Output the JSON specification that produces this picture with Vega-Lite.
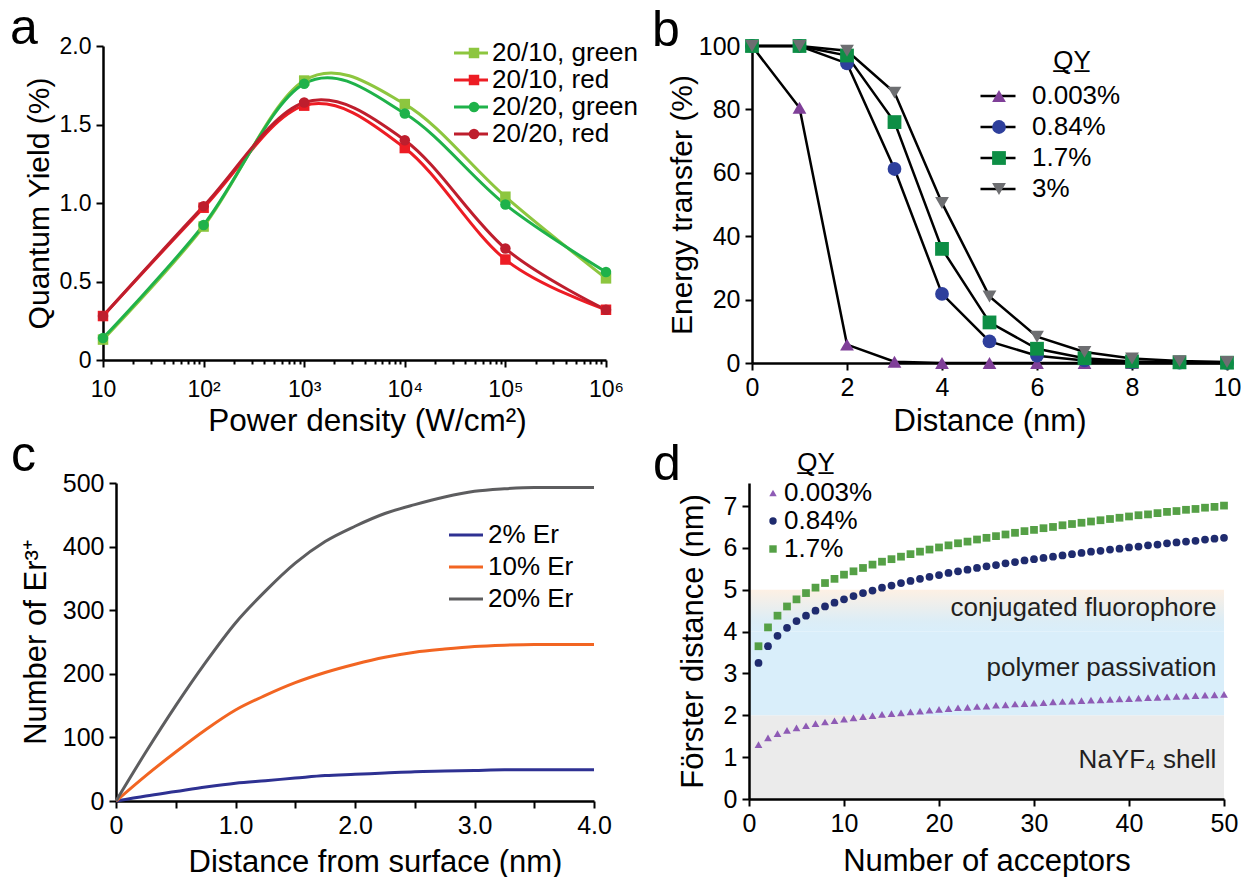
{
"$schema":"https://vega.github.io/schema/vega-lite/v6.json",
"background":"white",
"padding":{"left":10,"top":4,"right":0,"bottom":0},
"config":{
 "font":"Liberation Sans",
 "view":{"stroke":null},
 "axis":{"domainColor":"#000","domainWidth":2.5,"tickColor":"#000","tickWidth":2,"tickSize":7,"labelFontSize":25,"labelColor":"#000","labelPadding":5,"labelFlush":false,"labelOverlap":false,"titleFontSize":31,"titleFontWeight":"normal","titleColor":"#000","grid":false},
 "legend":{"labelFontSize":26,"labelColor":"#000","titleFontSize":26,"titleFontWeight":"normal","titleColor":"#000","symbolStrokeWidth":0},
 "title":{"fontSize":50,"fontWeight":"normal","color":"#000","anchor":"start","frame":"group"}
},
"spacing":-6,
"resolve":{"scale":{"color":"independent","fill":"independent","shape":"independent"}},
"vconcat":[
{"bounds":"flush","spacing":146,
 "resolve":{"scale":{"color":"independent","fill":"independent","shape":"independent"}},
 "hconcat":[
 {"width":503,"height":314,
  "title":{"text":"a","dx":-93,"dy":23},
  "data":{"values":[
   {"p":10,"s":"20/10, green","v":0.13},{"p":100,"s":"20/10, green","v":0.85},{"p":1000,"s":"20/10, green","v":1.78},{"p":10000,"s":"20/10, green","v":1.63},{"p":100000,"s":"20/10, green","v":1.04},{"p":1000000,"s":"20/10, green","v":0.52},
   {"p":10,"s":"20/10, red","v":0.28},{"p":100,"s":"20/10, red","v":0.97},{"p":1000,"s":"20/10, red","v":1.62},{"p":10000,"s":"20/10, red","v":1.35},{"p":100000,"s":"20/10, red","v":0.64},{"p":1000000,"s":"20/10, red","v":0.32},
   {"p":10,"s":"20/20, green","v":0.14},{"p":100,"s":"20/20, green","v":0.86},{"p":1000,"s":"20/20, green","v":1.76},{"p":10000,"s":"20/20, green","v":1.57},{"p":100000,"s":"20/20, green","v":0.99},{"p":1000000,"s":"20/20, green","v":0.56},
   {"p":10,"s":"20/20, red","v":0.28},{"p":100,"s":"20/20, red","v":0.98},{"p":1000,"s":"20/20, red","v":1.64},{"p":10000,"s":"20/20, red","v":1.40},{"p":100000,"s":"20/20, red","v":0.71},{"p":1000000,"s":"20/20, red","v":0.32}
  ]},
  "layer":[
   {"mark":{"type":"line","interpolate":"cardinal","strokeWidth":3},
    "encoding":{
     "x":{"field":"p","type":"quantitative","scale":{"type":"log","domain":[10,1000000]},
      "axis":{"title":"Power density (W/cm²)","labelFontSize":23,"labelPadding":11,"titleFontSize":31.5,"titlePadding":4,"titleX":264,"values":[10,20,30,40,50,60,70,80,90,100,200,300,400,500,600,700,800,900,1000,2000,3000,4000,5000,6000,7000,8000,9000,10000,20000,30000,40000,50000,60000,70000,80000,90000,100000,200000,300000,400000,500000,600000,700000,800000,900000,1000000],
       "labelExpr":"datum.value==10?'10':datum.value==100?'10²':datum.value==1000?'10³':datum.value==10000?'10⁴':datum.value==100000?'10⁵':datum.value==1000000?'10⁶':''",
       "tickSize":{"condition":{"test":"indexof([10,100,1000,10000,100000,1000000],datum.value)>=0","value":7},"value":4}}},
     "y":{"field":"v","type":"quantitative","scale":{"domain":[0,2]},
      "axis":{"title":"Quantum Yield (%)","labelFontSize":23,"titleFontSize":30,"titlePadding":5,"values":[0,0.25,0.5,0.75,1,1.25,1.5,1.75,2],"labelExpr":"datum.value==0?'0':(datum.value*2)%1==0?format(datum.value,'.1f'):''"}},
     "color":{"field":"s","type":"nominal","scale":{"domain":["20/10, green","20/10, red","20/20, green","20/20, red"],"range":["#8dc63f","#ed1c24","#1fb24a","#be1e2d"]},
      "legend":{"title":null,"orient":"none","legendX":355,"legendY":-6,"symbolType":"M-2,0H2","symbolSize":289,"symbolStrokeWidth":3,"rowPadding":1,"labelOffset":8}}
    }},
   {"mark":{"type":"point","filled":true,"size":110,"opacity":1,"strokeWidth":0},
    "encoding":{
     "x":{"field":"p","type":"quantitative"},
     "y":{"field":"v","type":"quantitative"},
     "fill":{"field":"s","type":"nominal","scale":{"range":["#8dc63f","#ed1c24","#1fb24a","#be1e2d"]},
      "legend":{"title":null,"orient":"none","legendX":358,"legendY":-6,"symbolSize":110,"rowPadding":1,"labelExpr":"''"}},
     "shape":{"field":"s","type":"nominal","scale":{"range":["square","square","circle","circle"]},
      "legend":{"title":null,"orient":"none","legendX":358,"legendY":-6,"symbolSize":110,"rowPadding":1,"labelExpr":"''"}}
    }}
  ]},
 {"width":475,"height":317,
  "title":{"text":"b","dx":-100,"dy":26},
  "data":{"values":[
   {"d":0,"q":"0.003%","v":100},{"d":1,"q":"0.003%","v":80.5},{"d":2,"q":"0.003%","v":5.8},{"d":3,"q":"0.003%","v":0.4},{"d":4,"q":"0.003%","v":0},{"d":5,"q":"0.003%","v":0},{"d":6,"q":"0.003%","v":0},{"d":7,"q":"0.003%","v":0},{"d":8,"q":"0.003%","v":0},{"d":9,"q":"0.003%","v":0},{"d":10,"q":"0.003%","v":0},
   {"d":0,"q":"0.84%","v":100},{"d":1,"q":"0.84%","v":100},{"d":2,"q":"0.84%","v":94.5},{"d":3,"q":"0.84%","v":61.2},{"d":4,"q":"0.84%","v":21.8},{"d":5,"q":"0.84%","v":6.8},{"d":6,"q":"0.84%","v":2.3},{"d":7,"q":"0.84%","v":0.8},{"d":8,"q":"0.84%","v":0.3},{"d":9,"q":"0.84%","v":0.1},{"d":10,"q":"0.84%","v":0},
   {"d":0,"q":"1.7%","v":100},{"d":1,"q":"1.7%","v":100},{"d":2,"q":"1.7%","v":97},{"d":3,"q":"1.7%","v":76},{"d":4,"q":"1.7%","v":36},{"d":5,"q":"1.7%","v":12.8},{"d":6,"q":"1.7%","v":4.5},{"d":7,"q":"1.7%","v":1.5},{"d":8,"q":"1.7%","v":0.5},{"d":9,"q":"1.7%","v":0.2},{"d":10,"q":"1.7%","v":0.1},
   {"d":0,"q":"3%","v":100},{"d":1,"q":"3%","v":100},{"d":2,"q":"3%","v":98.5},{"d":3,"q":"3%","v":85.3},{"d":4,"q":"3%","v":50.5},{"d":5,"q":"3%","v":21},{"d":6,"q":"3%","v":8.3},{"d":7,"q":"3%","v":3.5},{"d":8,"q":"3%","v":1.4},{"d":9,"q":"3%","v":0.6},{"d":10,"q":"3%","v":0.3}
  ]},
  "layer":[
   {"mark":{"type":"line","strokeWidth":2.5},
    "encoding":{
     "x":{"field":"d","type":"quantitative","scale":{"domain":[0,10]},"axis":{"title":"Distance (nm)","titlePadding":6,"values":[0,2,4,6,8,10]}},
     "y":{"field":"v","type":"quantitative","scale":{"domain":[0,100]},"axis":{"title":"Energy transfer (%)","titleFontSize":30,"titlePadding":1,"values":[0,20,40,60,80,100]}},
     "color":{"field":"q","type":"nominal","scale":{"domain":["0.003%","0.84%","1.7%","3%"],"range":["#000","#000","#000","#000"]},
      "legend":{"title":"\u00a0","titleAnchor":"middle","titlePadding":9,"orient":"none","legendX":233,"legendY":2,"symbolType":"M-2.06,0H2.06","symbolSize":289,"symbolStrokeWidth":2.5,"rowPadding":5,"labelOffset":21}}
    }},
   {"mark":{"type":"point","filled":true,"size":190,"opacity":1,"strokeWidth":0},
    "encoding":{
     "x":{"field":"d","type":"quantitative"},
     "y":{"field":"v","type":"quantitative"},
     "fill":{"field":"q","type":"nominal","scale":{"range":["#7f3f98","#2e3f9c","#0d8e45","#6d6e71"]},
      "legend":{"title":"Q\u0332Y\u0332","titleAnchor":"middle","titlePadding":9,"orient":"none","legendX":234,"legendY":2,"symbolSize":190,"rowPadding":5,"labelOffset":146,"labelExpr":"''"}},
     "shape":{"field":"q","type":"nominal","scale":{"range":["triangle-up","circle","square","triangle-down"]},
      "legend":{"title":"Q\u0332Y\u0332","titleAnchor":"middle","titlePadding":9,"orient":"none","legendX":234,"legendY":2,"symbolSize":190,"rowPadding":5,"labelOffset":146,"labelExpr":"''"}}
    }}
  ]}
]},
{"bounds":"flush","spacing":155,
 "resolve":{"scale":{"color":"independent","fill":"independent","shape":"independent"}},
 "hconcat":[
 {"width":491,"height":318,
  "title":{"text":"c","dx":-92,"dy":14},
  "data":{"values":[
   {"x":0,"s":"2% Er","v":0},{"x":0.25,"s":"2% Er","v":8},{"x":0.5,"s":"2% Er","v":15},{"x":0.75,"s":"2% Er","v":22},{"x":1,"s":"2% Er","v":28},{"x":1.25,"s":"2% Er","v":32},{"x":1.5,"s":"2% Er","v":36},{"x":1.75,"s":"2% Er","v":40},{"x":2,"s":"2% Er","v":42},{"x":2.25,"s":"2% Er","v":44},{"x":2.5,"s":"2% Er","v":46},{"x":2.75,"s":"2% Er","v":47},{"x":3,"s":"2% Er","v":48},{"x":3.25,"s":"2% Er","v":49},{"x":3.5,"s":"2% Er","v":49},{"x":3.75,"s":"2% Er","v":49},{"x":4,"s":"2% Er","v":49},
   {"x":0,"s":"10% Er","v":0},{"x":0.25,"s":"10% Er","v":40},{"x":0.5,"s":"10% Er","v":77},{"x":0.75,"s":"10% Er","v":112},{"x":1,"s":"10% Er","v":143},{"x":1.25,"s":"10% Er","v":166},{"x":1.5,"s":"10% Er","v":186},{"x":1.75,"s":"10% Er","v":202},{"x":2,"s":"10% Er","v":215},{"x":2.25,"s":"10% Er","v":226},{"x":2.5,"s":"10% Er","v":234},{"x":2.75,"s":"10% Er","v":239},{"x":3,"s":"10% Er","v":243},{"x":3.25,"s":"10% Er","v":245},{"x":3.5,"s":"10% Er","v":246},{"x":3.75,"s":"10% Er","v":246},{"x":4,"s":"10% Er","v":246},
   {"x":0,"s":"20% Er","v":0},{"x":0.25,"s":"20% Er","v":77},{"x":0.5,"s":"20% Er","v":150},{"x":0.75,"s":"20% Er","v":218},{"x":1,"s":"20% Er","v":280},{"x":1.25,"s":"20% Er","v":330},{"x":1.5,"s":"20% Er","v":374},{"x":1.75,"s":"20% Er","v":408},{"x":2,"s":"20% Er","v":432},{"x":2.25,"s":"20% Er","v":452},{"x":2.5,"s":"20% Er","v":466},{"x":2.75,"s":"20% Er","v":478},{"x":3,"s":"20% Er","v":487},{"x":3.25,"s":"20% Er","v":491},{"x":3.5,"s":"20% Er","v":493},{"x":3.75,"s":"20% Er","v":493},{"x":4,"s":"20% Er","v":493}
  ]},
  "mark":{"type":"line","interpolate":"monotone","strokeWidth":3},
  "encoding":{
   "x":{"field":"x","type":"quantitative","scale":{"domain":[0,4],"rangeMin":13},"axis":{"title":"Distance from surface (nm)","titlePadding":9,"titleX":272,"values":[0,0.5,1,1.5,2,2.5,3,3.5,4],"labelExpr":"datum.value==0?'0':datum.value%1==0?format(datum.value,'.1f'):''"}},
   "y":{"field":"v","type":"quantitative","scale":{"domain":[0,500]},"axis":{"title":"Number of Er³⁺","offset":-13,"titlePadding":10,"values":[0,100,200,300,400,500]}},
   "color":{"field":"s","type":"nominal","scale":{"domain":["2% Er","10% Er","20% Er"],"range":["#2e3192","#f26522","#5d5d5f"]},
    "legend":{"title":null,"orient":"none","legendX":350,"legendY":39,"symbolType":"M-2,0H2","symbolSize":289,"symbolStrokeWidth":3,"rowPadding":6,"labelOffset":9}}
  }},
 {"width":475,"height":316,
  "title":{"text":"d","dx":-96,"dy":44},
  "encoding":{
   "x":{"field":"n","type":"quantitative","scale":{"domain":[0,50]},"axis":{"title":"Number of acceptors","titlePadding":10,"values":[0,10,20,30,40,50],"zindex":1}},
   "y":{"field":"v","type":"quantitative","scale":{"domain":[0,7.55]},"axis":{"title":"Förster distance (nm)","titlePadding":14,"values":[0,1,2,3,4,5,6,7],"zindex":1}}
  },
  "layer":[
   {"data":{"values":[{"band":"NaYF4 shell","n":0,"n2":50,"v":0,"v2":2},{"band":"polymer passivation","n":0,"n2":50,"v":2,"v2":4}]},
    "mark":{"type":"rect"},
    "encoding":{"x2":{"field":"n2"},"y2":{"field":"v2"},
     "color":{"field":"band","type":"nominal","scale":{"domain":["NaYF4 shell","polymer passivation"],"range":["#ebebeb","#d9eefa"]},"legend":null}}},
   {"data":{"values":[{"band":"conjugated fluorophore","n":0,"n2":50,"v":4,"v2":5}]},
    "mark":{"type":"rect","color":{"gradient":"linear","x1":0,"y1":1,"x2":0,"y2":0,"stops":[{"offset":0,"color":"#d9eefa"},{"offset":0.25,"color":"#dcedf6"},{"offset":1,"color":"#fdf0e4"}]}},
    "encoding":{"x2":{"field":"n2"},"y2":{"field":"v2"}}},
   {"data":{"values":[{"t":"conjugated fluorophore","n":49.2,"v":4.56},{"t":"polymer passivation","n":49.2,"v":3.13},{"t":"NaYF₄ shell","n":49.2,"v":0.93}]},
    "mark":{"type":"text","align":"right","baseline":"middle","fontSize":26,"color":"#231f20"},
    "encoding":{"text":{"field":"t"}}},
   {"data":{"values":[
    {"n":1,"q":"0.003%","v":1.30},{"n":2,"q":"0.003%","v":1.46},{"n":3,"q":"0.003%","v":1.56},{"n":4,"q":"0.003%","v":1.64},{"n":5,"q":"0.003%","v":1.70},{"n":6,"q":"0.003%","v":1.75},{"n":7,"q":"0.003%","v":1.80},{"n":8,"q":"0.003%","v":1.84},{"n":9,"q":"0.003%","v":1.87},{"n":10,"q":"0.003%","v":1.91},
    {"n":11,"q":"0.003%","v":1.94},{"n":12,"q":"0.003%","v":1.97},{"n":13,"q":"0.003%","v":1.99},{"n":14,"q":"0.003%","v":2.02},{"n":15,"q":"0.003%","v":2.04},{"n":16,"q":"0.003%","v":2.06},{"n":17,"q":"0.003%","v":2.08},{"n":18,"q":"0.003%","v":2.10},{"n":19,"q":"0.003%","v":2.12},{"n":20,"q":"0.003%","v":2.14},
    {"n":21,"q":"0.003%","v":2.16},{"n":22,"q":"0.003%","v":2.18},{"n":23,"q":"0.003%","v":2.19},{"n":24,"q":"0.003%","v":2.21},{"n":25,"q":"0.003%","v":2.22},{"n":26,"q":"0.003%","v":2.24},{"n":27,"q":"0.003%","v":2.25},{"n":28,"q":"0.003%","v":2.27},{"n":29,"q":"0.003%","v":2.28},{"n":30,"q":"0.003%","v":2.29},
    {"n":31,"q":"0.003%","v":2.30},{"n":32,"q":"0.003%","v":2.32},{"n":33,"q":"0.003%","v":2.33},{"n":34,"q":"0.003%","v":2.34},{"n":35,"q":"0.003%","v":2.35},{"n":36,"q":"0.003%","v":2.36},{"n":37,"q":"0.003%","v":2.37},{"n":38,"q":"0.003%","v":2.38},{"n":39,"q":"0.003%","v":2.39},{"n":40,"q":"0.003%","v":2.40},
    {"n":41,"q":"0.003%","v":2.41},{"n":42,"q":"0.003%","v":2.42},{"n":43,"q":"0.003%","v":2.43},{"n":44,"q":"0.003%","v":2.44},{"n":45,"q":"0.003%","v":2.45},{"n":46,"q":"0.003%","v":2.46},{"n":47,"q":"0.003%","v":2.47},{"n":48,"q":"0.003%","v":2.48},{"n":49,"q":"0.003%","v":2.49},{"n":50,"q":"0.003%","v":2.50},
    {"n":1,"q":"0.84%","v":3.25},{"n":2,"q":"0.84%","v":3.65},{"n":3,"q":"0.84%","v":3.90},{"n":4,"q":"0.84%","v":4.09},{"n":5,"q":"0.84%","v":4.25},{"n":6,"q":"0.84%","v":4.38},{"n":7,"q":"0.84%","v":4.50},{"n":8,"q":"0.84%","v":4.60},{"n":9,"q":"0.84%","v":4.69},{"n":10,"q":"0.84%","v":4.77},
    {"n":11,"q":"0.84%","v":4.85},{"n":12,"q":"0.84%","v":4.92},{"n":13,"q":"0.84%","v":4.98},{"n":14,"q":"0.84%","v":5.05},{"n":15,"q":"0.84%","v":5.10},{"n":16,"q":"0.84%","v":5.16},{"n":17,"q":"0.84%","v":5.21},{"n":18,"q":"0.84%","v":5.26},{"n":19,"q":"0.84%","v":5.31},{"n":20,"q":"0.84%","v":5.35},
    {"n":21,"q":"0.84%","v":5.40},{"n":22,"q":"0.84%","v":5.44},{"n":23,"q":"0.84%","v":5.48},{"n":24,"q":"0.84%","v":5.52},{"n":25,"q":"0.84%","v":5.56},{"n":26,"q":"0.84%","v":5.59},{"n":27,"q":"0.84%","v":5.63},{"n":28,"q":"0.84%","v":5.66},{"n":29,"q":"0.84%","v":5.70},{"n":30,"q":"0.84%","v":5.73},
    {"n":31,"q":"0.84%","v":5.76},{"n":32,"q":"0.84%","v":5.79},{"n":33,"q":"0.84%","v":5.82},{"n":34,"q":"0.84%","v":5.85},{"n":35,"q":"0.84%","v":5.88},{"n":36,"q":"0.84%","v":5.91},{"n":37,"q":"0.84%","v":5.93},{"n":38,"q":"0.84%","v":5.96},{"n":39,"q":"0.84%","v":5.98},{"n":40,"q":"0.84%","v":6.01},
    {"n":41,"q":"0.84%","v":6.03},{"n":42,"q":"0.84%","v":6.06},{"n":43,"q":"0.84%","v":6.08},{"n":44,"q":"0.84%","v":6.11},{"n":45,"q":"0.84%","v":6.13},{"n":46,"q":"0.84%","v":6.15},{"n":47,"q":"0.84%","v":6.17},{"n":48,"q":"0.84%","v":6.20},{"n":49,"q":"0.84%","v":6.22},{"n":50,"q":"0.84%","v":6.24},
    {"n":1,"q":"1.7%","v":3.65},{"n":2,"q":"1.7%","v":4.10},{"n":3,"q":"1.7%","v":4.38},{"n":4,"q":"1.7%","v":4.60},{"n":5,"q":"1.7%","v":4.77},{"n":6,"q":"1.7%","v":4.92},{"n":7,"q":"1.7%","v":5.05},{"n":8,"q":"1.7%","v":5.16},{"n":9,"q":"1.7%","v":5.26},{"n":10,"q":"1.7%","v":5.36},
    {"n":11,"q":"1.7%","v":5.44},{"n":12,"q":"1.7%","v":5.52},{"n":13,"q":"1.7%","v":5.60},{"n":14,"q":"1.7%","v":5.67},{"n":15,"q":"1.7%","v":5.73},{"n":16,"q":"1.7%","v":5.79},{"n":17,"q":"1.7%","v":5.85},{"n":18,"q":"1.7%","v":5.91},{"n":19,"q":"1.7%","v":5.96},{"n":20,"q":"1.7%","v":6.01},
    {"n":21,"q":"1.7%","v":6.06},{"n":22,"q":"1.7%","v":6.11},{"n":23,"q":"1.7%","v":6.15},{"n":24,"q":"1.7%","v":6.20},{"n":25,"q":"1.7%","v":6.24},{"n":26,"q":"1.7%","v":6.28},{"n":27,"q":"1.7%","v":6.32},{"n":28,"q":"1.7%","v":6.36},{"n":29,"q":"1.7%","v":6.40},{"n":30,"q":"1.7%","v":6.43},
    {"n":31,"q":"1.7%","v":6.47},{"n":32,"q":"1.7%","v":6.50},{"n":33,"q":"1.7%","v":6.54},{"n":34,"q":"1.7%","v":6.57},{"n":35,"q":"1.7%","v":6.60},{"n":36,"q":"1.7%","v":6.63},{"n":37,"q":"1.7%","v":6.66},{"n":38,"q":"1.7%","v":6.69},{"n":39,"q":"1.7%","v":6.72},{"n":40,"q":"1.7%","v":6.75},
    {"n":41,"q":"1.7%","v":6.78},{"n":42,"q":"1.7%","v":6.80},{"n":43,"q":"1.7%","v":6.83},{"n":44,"q":"1.7%","v":6.86},{"n":45,"q":"1.7%","v":6.88},{"n":46,"q":"1.7%","v":6.91},{"n":47,"q":"1.7%","v":6.93},{"n":48,"q":"1.7%","v":6.96},{"n":49,"q":"1.7%","v":6.98},{"n":50,"q":"1.7%","v":7.01}
   ]},
    "mark":{"type":"point","filled":true,"size":60,"opacity":1,"strokeWidth":0},
    "encoding":{
     "fill":{"field":"q","type":"nominal","scale":{"range":["#8e5bb5","#1f2b6e","#55a046"]},
      "legend":{"title":"Q\u0332Y\u0332","titleAnchor":"middle","titlePadding":4,"orient":"none","legendX":11,"legendY":-33,"symbolSize":55,"rowPadding":2,"labelOffset":-2}},
     "shape":{"field":"q","type":"nominal","scale":{"range":["triangle-up","circle","square"]},
      "legend":{"title":"Q\u0332Y\u0332","titleAnchor":"middle","titlePadding":4,"orient":"none","legendX":11,"legendY":-33,"symbolSize":55,"rowPadding":2,"labelOffset":-2}}
    }}
  ]}
]}
]
}
